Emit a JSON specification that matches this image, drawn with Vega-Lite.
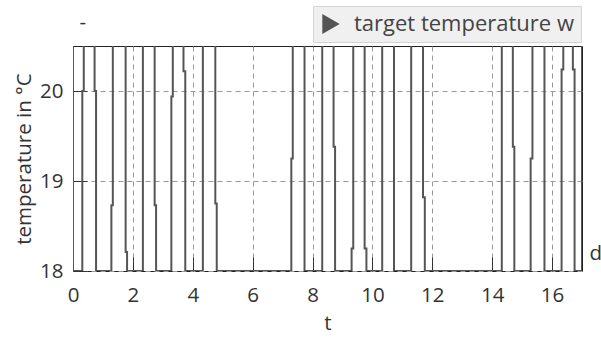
{
  "$schema": "https://vega.github.io/schema/vega-lite/v6.json",
  "width": 509,
  "height": 225,
  "autosize": "none",
  "padding": {"left": 73, "top": 46, "right": 19, "bottom": 71},
  "background": "white",
  "config": {
    "font": "Open Sans",
    "view": {"stroke": "#222", "strokeWidth": 1}
  },
  "layer": [
    {
      "data": {"values": [
        {"i": 0, "t": 0, "w": 21}, {"i": 1, "t": 0, "w": 18},
        {"i": 2, "t": 0.311, "w": 18}, {"i": 3, "t": 0.311, "w": 20.0}, {"i": 4, "t": 0.36, "w": 20.0}, {"i": 5, "t": 0.36, "w": 21},
        {"i": 6, "t": 0.721, "w": 21}, {"i": 7, "t": 0.721, "w": 20.0}, {"i": 8, "t": 0.77, "w": 20.0}, {"i": 9, "t": 0.77, "w": 18},
        {"i": 10, "t": 1.282, "w": 18}, {"i": 11, "t": 1.282, "w": 18.73}, {"i": 12, "t": 1.33, "w": 18.73}, {"i": 13, "t": 1.33, "w": 21},
        {"i": 14, "t": 1.758, "w": 21}, {"i": 15, "t": 1.758, "w": 18.21}, {"i": 16, "t": 1.806, "w": 18.21}, {"i": 17, "t": 1.806, "w": 18},
        {"i": 18, "t": 2.334, "w": 18}, {"i": 19, "t": 2.334, "w": 21},
        {"i": 20, "t": 2.727, "w": 21}, {"i": 21, "t": 2.727, "w": 18.73}, {"i": 22, "t": 2.775, "w": 18.73}, {"i": 23, "t": 2.775, "w": 18},
        {"i": 24, "t": 3.285, "w": 18}, {"i": 25, "t": 3.285, "w": 19.94}, {"i": 26, "t": 3.333, "w": 19.94}, {"i": 27, "t": 3.333, "w": 21},
        {"i": 28, "t": 3.69, "w": 21}, {"i": 29, "t": 3.69, "w": 20.22}, {"i": 30, "t": 3.75, "w": 20.22}, {"i": 31, "t": 3.75, "w": 18},
        {"i": 32, "t": 4.337, "w": 18}, {"i": 33, "t": 4.337, "w": 21},
        {"i": 34, "t": 4.753, "w": 21}, {"i": 35, "t": 4.753, "w": 18.75}, {"i": 36, "t": 4.801, "w": 18.75}, {"i": 37, "t": 4.801, "w": 18},
        {"i": 38, "t": 7.292, "w": 18}, {"i": 39, "t": 7.292, "w": 19.25}, {"i": 40, "t": 7.34, "w": 19.25}, {"i": 41, "t": 7.34, "w": 21},
        {"i": 42, "t": 7.733, "w": 21}, {"i": 43, "t": 7.733, "w": 18},
        {"i": 44, "t": 8.324, "w": 18}, {"i": 45, "t": 8.324, "w": 21},
        {"i": 46, "t": 8.703, "w": 21}, {"i": 47, "t": 8.703, "w": 19.38}, {"i": 48, "t": 8.753, "w": 19.38}, {"i": 49, "t": 8.753, "w": 18},
        {"i": 50, "t": 9.305, "w": 18}, {"i": 51, "t": 9.305, "w": 18.25}, {"i": 52, "t": 9.36, "w": 18.25}, {"i": 53, "t": 9.36, "w": 21},
        {"i": 54, "t": 9.74, "w": 21}, {"i": 55, "t": 9.74, "w": 18.25}, {"i": 56, "t": 9.8, "w": 18.25}, {"i": 57, "t": 9.8, "w": 18},
        {"i": 58, "t": 10.327, "w": 18}, {"i": 59, "t": 10.327, "w": 21},
        {"i": 60, "t": 10.721, "w": 21}, {"i": 61, "t": 10.721, "w": 18},
        {"i": 62, "t": 11.295, "w": 18}, {"i": 63, "t": 11.295, "w": 21},
        {"i": 64, "t": 11.69, "w": 21}, {"i": 65, "t": 11.69, "w": 18.82}, {"i": 66, "t": 11.75, "w": 18.82}, {"i": 67, "t": 11.75, "w": 18},
        {"i": 68, "t": 14.321, "w": 18}, {"i": 69, "t": 14.321, "w": 21},
        {"i": 70, "t": 14.69, "w": 21}, {"i": 71, "t": 14.69, "w": 19.38}, {"i": 72, "t": 14.74, "w": 19.38}, {"i": 73, "t": 14.74, "w": 18},
        {"i": 74, "t": 15.285, "w": 18}, {"i": 75, "t": 15.285, "w": 19.25}, {"i": 76, "t": 15.345, "w": 19.25}, {"i": 77, "t": 15.345, "w": 21},
        {"i": 78, "t": 15.746, "w": 21}, {"i": 79, "t": 15.746, "w": 18},
        {"i": 80, "t": 16.318, "w": 18}, {"i": 81, "t": 16.318, "w": 20.24}, {"i": 82, "t": 16.375, "w": 20.24}, {"i": 83, "t": 16.375, "w": 21},
        {"i": 84, "t": 16.695, "w": 21}, {"i": 85, "t": 16.695, "w": 20.24}, {"i": 86, "t": 16.752, "w": 20.24}, {"i": 87, "t": 16.752, "w": 18},
        {"i": 88, "t": 17, "w": 18}, {"i": 89, "t": 17, "w": 21}
      ]},
      "mark": {"type": "line", "clip": true, "strokeWidth": 2, "interpolate": "linear"},
      "encoding": {
        "x": {
          "field": "t", "type": "quantitative",
          "scale": {"domain": [0, 17], "nice": false, "zero": false},
          "axis": {
            "title": "t", "values": [0, 2, 4, 6, 8, 10, 12, 14, 16],
            "grid": true, "gridDash": [5, 4], "gridColor": "#999", "gridWidth": 1,
            "domain": false, "tickSize": -14, "tickColor": "#333", "tickWidth": 1,
            "labelPadding": 28, "labelFontSize": 20.5, "labelColor": "#333", "labelFlush": false,
            "titleFontSize": 20.5, "titleColor": "#333", "titleFontWeight": "normal", "titlePadding": 8
          }
        },
        "y": {
          "field": "w", "type": "quantitative",
          "scale": {"domain": [18, 20.5], "nice": false, "zero": false},
          "axis": {
            "title": "temperature in °C", "values": [18, 19, 20], "format": "d",
            "grid": true, "gridDash": [5, 4], "gridColor": "#999", "gridWidth": 1,
            "domain": false, "tickSize": -14, "tickColor": "#333", "tickWidth": 1,
            "labelPadding": 24, "labelFontSize": 20.5, "labelColor": "#333", "labelFlush": false,
            "titleFontSize": 20.5, "titleColor": "#333", "titleFontWeight": "normal", "titlePadding": 5
          }
        },
        "order": {"field": "i", "type": "quantitative"},
        "color": {
          "datum": "target temperature w", "type": "nominal",
          "scale": {"range": ["#555555"]},
          "legend": {
            "orient": "none", "legendX": 240, "legendY": -40, "title": null,
            "fillColor": "#f0f0f0", "strokeColor": "#d4d4d4", "padding": 7,
            "symbolType": "triangle-right", "symbolSize": 400, "symbolFillColor": "#555555",
            "symbolStrokeWidth": 0,
            "labelFontSize": 22, "labelColor": "#444", "labelOffset": 12, "labelLimit": 400,
            "labelExpr": "datum.label + '\u2002'",
            "encode": {"symbols": {"update": {"fill": {"value": "#555555"}, "strokeWidth": {"value": 0}}}}
          }
        }
      }
    },
    {
      "data": {"values": [
        {"t": 0.22, "w": 20.76, "label": "-"},
        {"t": 17.25, "w": 18.19, "label": "d"}
      ]},
      "mark": {"type": "text", "clip": false, "align": "left", "baseline": "middle", "fontSize": 20.5, "color": "#333"},
      "encoding": {
        "x": {"field": "t", "type": "quantitative"},
        "y": {"field": "w", "type": "quantitative"},
        "text": {"field": "label"}
      }
    }
  ]
}
